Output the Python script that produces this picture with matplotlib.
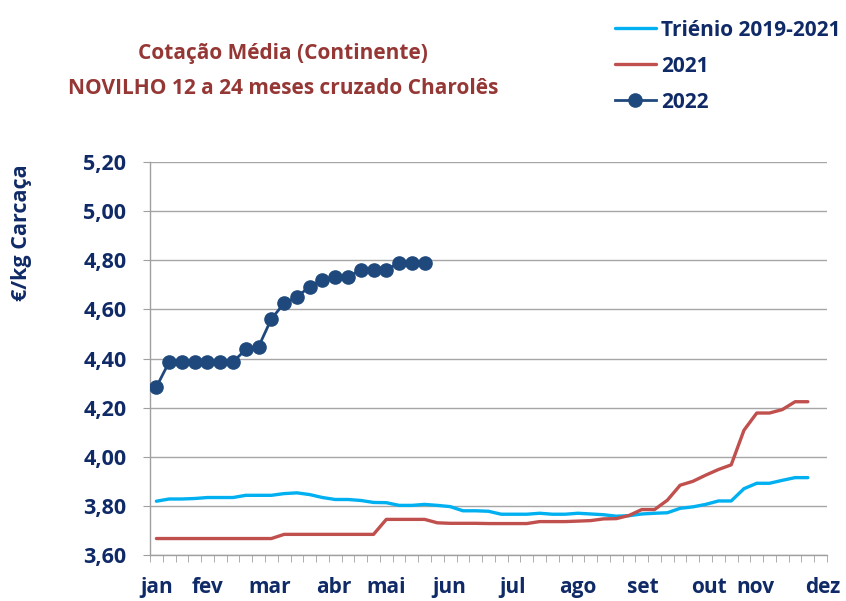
import numpy as np
import matplotlib
matplotlib.use("Agg")
import matplotlib.pyplot as plt

plt.rcParams['font.family'] = ['Open Sans', 'DejaVu Sans']

# weekly averages (week index 0..)
trienio = [3.819, 3.828, 3.828, 3.830, 3.834, 3.834, 3.834, 3.843, 3.843, 3.843,
           3.850, 3.853, 3.846, 3.834, 3.826, 3.826, 3.822, 3.814, 3.813, 3.802,
           3.802, 3.806, 3.802, 3.797, 3.780, 3.780, 3.778, 3.766, 3.766, 3.766,
           3.770, 3.766, 3.766, 3.770, 3.767, 3.764, 3.758, 3.760, 3.767, 3.770,
           3.772, 3.790, 3.796, 3.806, 3.820, 3.820, 3.870, 3.892, 3.892, 3.904,
           3.915, 3.915]
ano_2021 = [3.667, 3.667, 3.667, 3.667, 3.667, 3.667, 3.667, 3.667, 3.667, 3.667,
            3.684, 3.684, 3.684, 3.684, 3.684, 3.684, 3.684, 3.684, 3.745, 3.745,
            3.745, 3.745, 3.731, 3.729, 3.729, 3.729, 3.728, 3.728, 3.728, 3.728,
            3.736, 3.736, 3.736, 3.738, 3.740, 3.747, 3.748, 3.761, 3.785, 3.785,
            3.823, 3.884, 3.900, 3.925, 3.948, 3.967, 4.108, 4.178, 4.178, 4.192,
            4.224, 4.224]
ano_2022 = [4.284, 4.386, 4.386, 4.386, 4.386, 4.386, 4.386, 4.437, 4.448, 4.561,
            4.625, 4.650, 4.693, 4.721, 4.732, 4.732, 4.762, 4.762, 4.762, 4.789,
            4.789, 4.789]

meses = ['jan', 'fev', 'mar', 'abr', 'mai', 'jun', 'jul', 'ago', 'set', 'out', 'nov', 'dez']
mes_pos = [0.0, 4.0, 8.9, 13.9, 18.0, 22.9, 27.9, 33.0, 38.1, 43.3, 46.9, 52.2]
n_semanas = 53
y_ticks = [3.60, 3.80, 4.00, 4.20, 4.40, 4.60, 4.80, 5.00, 5.20]

navy_txt = '#0F2A66'
c_tri = '#00B0F0'
c_21 = '#C0504D'
c_22 = '#1F497D'

fig = plt.figure(figsize=(8.46, 6.01), dpi=100)
ax = fig.add_axes([150 / 846, 1 - 555 / 601, 677 / 846, 393 / 601])

ax.plot(np.arange(len(trienio)), trienio, color=c_tri, lw=2.4, label='Triénio 2019-2021',
        solid_capstyle='round', zorder=3)
ax.plot(np.arange(len(ano_2021)), ano_2021, color=c_21, lw=2.4, label='2021',
        solid_capstyle='round', zorder=3)
ax.plot(np.arange(len(ano_2022)), ano_2022, color=c_22, lw=2.0, marker='o', ms=9.5,
        label='2022', zorder=4)

ax.set_xlim(-0.5, n_semanas - 0.5)
ax.set_ylim(3.60, 5.20)
ax.set_yticks(y_ticks)
ax.set_yticklabels([f'{v:.2f}'.replace('.', ',') for v in y_ticks],
                   fontsize=15.5, fontweight='bold', color=navy_txt)
ax.set_xticks(mes_pos)
ax.set_xticklabels(meses, fontsize=15, fontweight='bold', color=navy_txt)
ax.set_xticks(np.arange(-0.5, n_semanas, 1), minor=True)
ax.tick_params(axis='x', which='major', length=0, pad=16)
ax.tick_params(axis='x', which='minor', length=5, color='#A0A0A0', direction='out')
ax.tick_params(axis='y', length=5, color='#A0A0A0', direction='out', pad=12)

ax.grid(axis='y', color='#A6A6A6', lw=1.0)
ax.set_axisbelow(True)
for s in ['top', 'right']:
    ax.spines[s].set_visible(False)
for s in ['left', 'bottom']:
    ax.spines[s].set_color('#A0A0A0')
    ax.spines[s].set_linewidth(1.0)

fig.text(22 / 846, 1 - 233 / 601, '€/kg Carcaça', rotation=90, ha='center', va='center',
         fontsize=15.5, fontweight='bold', color=navy_txt)

fig.text(283 / 846, 1 - 53 / 601, 'Cotação Média (Continente)', ha='center', va='center',
         fontsize=15, fontweight='bold', color='#953735')
fig.text(283 / 846, 1 - 88 / 601, 'NOVILHO 12 a 24 meses cruzado Charolês', ha='center',
         va='center', fontsize=15, fontweight='bold', color='#953735')

leg = fig.legend(loc='upper left', bbox_to_anchor=(600 / 846, 1 - 5 / 601), frameon=False,
                 fontsize=15, handlelength=2.0, handletextpad=0.25, labelspacing=0.72,
                 borderpad=0.2)
for t in leg.get_texts():
    t.set_fontweight('bold')
    t.set_color(navy_txt)

fig.savefig('out.png', dpi=100)
